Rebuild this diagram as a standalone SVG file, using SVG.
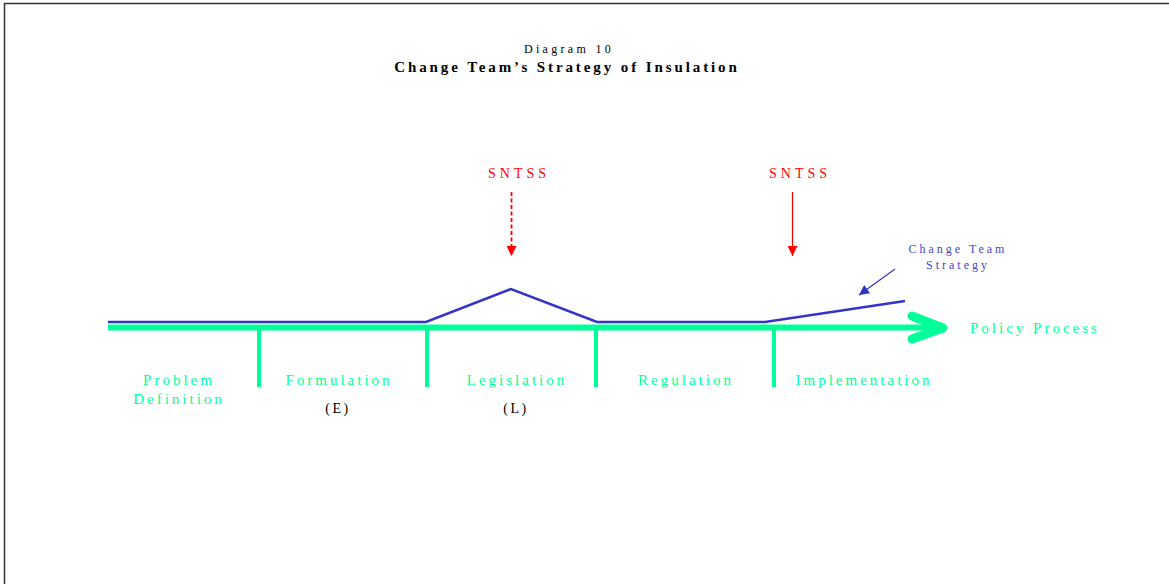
<svg xmlns="http://www.w3.org/2000/svg" width="1169" height="584" viewBox="0 0 1169 584">
<style>
text{font-family:"Liberation Serif","Times New Roman",serif}
.g{fill:#00ff99;font-size:15px;letter-spacing:3px;text-anchor:middle}
.gs{fill:#00ff99;font-size:15px;letter-spacing:3px;text-anchor:start}
.k{fill:#000;font-size:14px;letter-spacing:2.5px;text-anchor:middle}
.r{fill:#ff0000;font-size:14px;letter-spacing:4px;text-anchor:middle}
.b{fill:#4444cc;font-size:12px;letter-spacing:3px;text-anchor:middle}
.tick{stroke:#00ff99;stroke-width:4}
</style>
<defs>
<marker id="ar" viewBox="0 0 10 10" refX="10" refY="5" markerWidth="12" markerHeight="10" markerUnits="userSpaceOnUse" orient="auto"><path d="M0,0 L10,5 L0,10 Z" fill="#ff0000"/></marker>
<marker id="ab" viewBox="0 0 10 10" refX="10" refY="5" markerWidth="12" markerHeight="10" markerUnits="userSpaceOnUse" orient="auto"><path d="M0,0 L10,5 L0,10 Z" fill="#3333cc"/></marker>
</defs>
<rect width="1169" height="584" fill="#fff"/>
<path d="M4.5,584 V3.5 H1169" fill="none" stroke="#333" stroke-width="1.5"/>
<g id="title">
<text x="569" y="53" text-anchor="middle" font-size="12" letter-spacing="3.3">Diagram 10</text>
<text x="567" y="72" text-anchor="middle" font-size="15" font-weight="bold" letter-spacing="2.9">Change Team’s Strategy of Insulation</text>
</g>
<g id="connectors">
<line x1="108" y1="327.5" x2="940" y2="327.5" stroke="#00ff99" stroke-width="6"/>
<path d="M912,316 L943,328 L912,339" fill="none" stroke="#00ff99" stroke-width="9" stroke-linecap="round" stroke-linejoin="round"/>
<line class="tick" x1="259" y1="328" x2="259" y2="387"/>
<line class="tick" x1="427" y1="328" x2="427" y2="387"/>
<line class="tick" x1="596" y1="328" x2="596" y2="387"/>
<line class="tick" x1="774" y1="328" x2="774" y2="387"/>
<path d="M108,322 H426 L511,289 L597,322 H765 L905,301" fill="none" stroke="#3333cc" stroke-width="2.5"/>
<line x1="511.5" y1="192" x2="511.5" y2="256" stroke="#ff0000" stroke-width="1.8" stroke-dasharray="4,2.5" marker-end="url(#ar)"/>
<line x1="792.5" y1="192" x2="792.5" y2="256" stroke="#ff0000" stroke-width="1.2" marker-end="url(#ar)"/>
<line x1="895" y1="269" x2="859" y2="295" stroke="#3333cc" stroke-width="1.2" marker-end="url(#ab)"/>
</g>
<g id="sntss1"><text class="r" x="519" y="178">SNTSS</text></g>
<g id="sntss2"><text class="r" x="800" y="178">SNTSS</text></g>
<g id="cts"><text class="b" x="958" y="253">Change Team</text><text class="b" x="958" y="269">Strategy</text></g>
<g id="policy"><text class="gs" x="970" y="333">Policy Process</text></g>
<g id="problem"><text class="g" x="179" y="385">Problem</text><text class="g" x="179" y="404">Definition</text></g>
<g id="formulation"><text class="g" x="339" y="385">Formulation</text><text class="k" x="338" y="413">(E)</text></g>
<g id="legislation"><text class="g" x="517" y="385">Legislation</text><text class="k" x="516" y="413">(L)</text></g>
<g id="regulation"><text class="g" x="686" y="385">Regulation</text></g>
<g id="implementation"><text class="g" x="864" y="385">Implementation</text></g>
</svg>
